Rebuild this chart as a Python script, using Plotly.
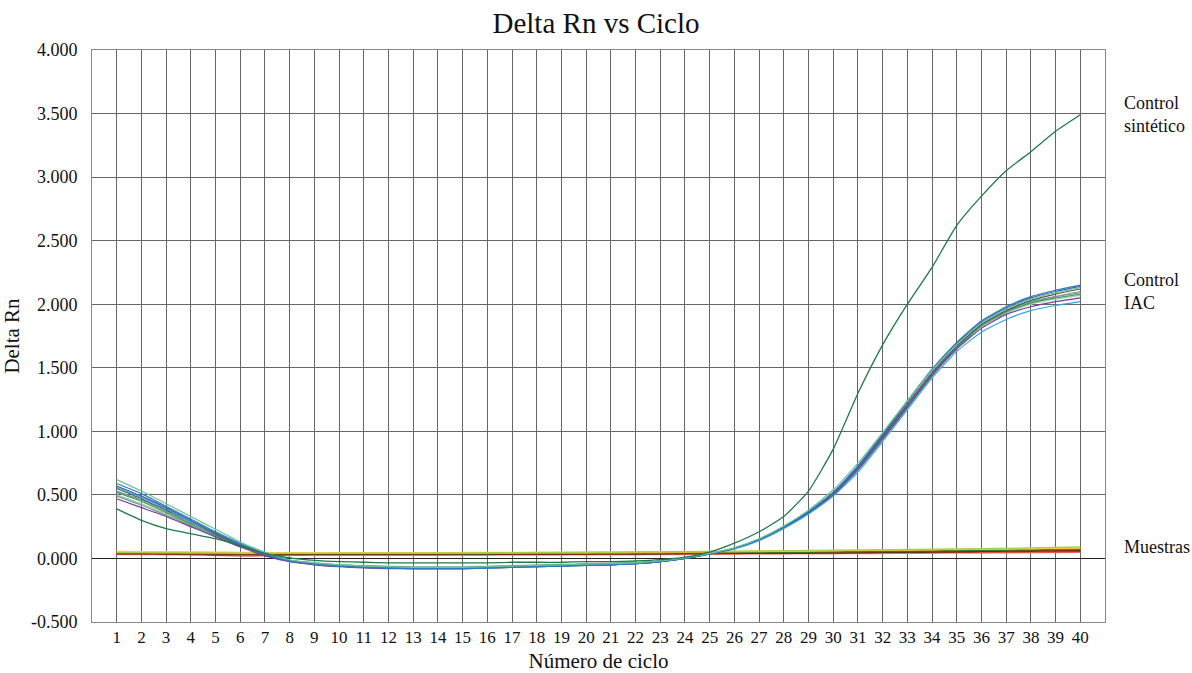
import plotly.graph_objects as go

cycles = list(range(1, 41))

# Synthetic positive control
control_sintetico = [0.39, 0.30, 0.235, 0.195, 0.155, 0.10, 0.04, 0.005, -0.015, -0.025,
                     -0.03, -0.035, -0.035, -0.035, -0.035, -0.035, -0.03, -0.03, -0.03, -0.025,
                     -0.025, -0.02, -0.01, 0.01, 0.05, 0.12, 0.21, 0.33, 0.53, 0.86,
                     1.30, 1.68, 2.00, 2.29, 2.62, 2.85, 3.05, 3.20, 3.36, 3.49]

# Internal amplification control wells
iac_1 = [0.62, 0.53, 0.43, 0.33, 0.23, 0.13, 0.05, -0.01, -0.035, -0.05,
         -0.06, -0.065, -0.07, -0.07, -0.07, -0.065, -0.06, -0.055, -0.05, -0.045,
         -0.04, -0.035, -0.02, 0.005, 0.04, 0.085, 0.155, 0.255, 0.38, 0.54,
         0.75, 0.99, 1.24, 1.48, 1.68, 1.85, 1.96, 2.04, 2.09, 2.13]
iac_2 = [0.59, 0.51, 0.41, 0.31, 0.21, 0.12, 0.04, -0.02, -0.045, -0.06,
         -0.07, -0.075, -0.08, -0.08, -0.08, -0.075, -0.07, -0.065, -0.06, -0.055,
         -0.05, -0.04, -0.025, 0.0, 0.035, 0.08, 0.15, 0.25, 0.37, 0.52,
         0.73, 0.98, 1.24, 1.49, 1.70, 1.87, 1.98, 2.06, 2.11, 2.15]
iac_3 = [0.57, 0.49, 0.40, 0.30, 0.20, 0.11, 0.035, -0.02, -0.045, -0.06,
         -0.07, -0.075, -0.08, -0.08, -0.08, -0.075, -0.07, -0.065, -0.06, -0.055,
         -0.05, -0.04, -0.025, 0.0, 0.035, 0.08, 0.15, 0.245, 0.365, 0.515,
         0.72, 0.97, 1.23, 1.48, 1.69, 1.86, 1.97, 2.05, 2.10, 2.14]
iac_4 = [0.55, 0.47, 0.38, 0.29, 0.19, 0.105, 0.03, -0.02, -0.045, -0.06,
         -0.07, -0.075, -0.075, -0.075, -0.075, -0.07, -0.065, -0.06, -0.055, -0.05,
         -0.045, -0.04, -0.025, 0.0, 0.035, 0.08, 0.15, 0.25, 0.37, 0.52,
         0.72, 0.96, 1.21, 1.46, 1.67, 1.84, 1.95, 2.03, 2.08, 2.12]
iac_5 = [0.53, 0.46, 0.37, 0.28, 0.19, 0.10, 0.03, -0.02, -0.04, -0.055,
         -0.065, -0.07, -0.075, -0.075, -0.075, -0.07, -0.065, -0.06, -0.055, -0.05,
         -0.045, -0.04, -0.025, 0.0, 0.035, 0.08, 0.145, 0.245, 0.36, 0.51,
         0.71, 0.95, 1.20, 1.45, 1.66, 1.83, 1.94, 2.01, 2.06, 2.10]
iac_6 = [0.52, 0.45, 0.36, 0.27, 0.18, 0.10, 0.03, -0.015, -0.035, -0.05,
         -0.06, -0.065, -0.07, -0.07, -0.07, -0.065, -0.06, -0.055, -0.05, -0.045,
         -0.04, -0.035, -0.02, 0.005, 0.04, 0.08, 0.145, 0.24, 0.355, 0.50,
         0.70, 0.94, 1.19, 1.44, 1.66, 1.83, 1.94, 2.01, 2.05, 2.08]
iac_7 = [0.50, 0.43, 0.35, 0.26, 0.18, 0.10, 0.03, -0.015, -0.035, -0.05,
         -0.055, -0.06, -0.065, -0.065, -0.065, -0.06, -0.055, -0.05, -0.045, -0.04,
         -0.035, -0.03, -0.02, 0.005, 0.04, 0.08, 0.145, 0.24, 0.355, 0.50,
         0.69, 0.93, 1.18, 1.43, 1.65, 1.82, 1.93, 2.00, 2.04, 2.07]
iac_8 = [0.47, 0.40, 0.33, 0.25, 0.17, 0.09, 0.02, -0.025, -0.05, -0.065,
         -0.075, -0.08, -0.08, -0.08, -0.08, -0.075, -0.07, -0.065, -0.06, -0.055,
         -0.05, -0.04, -0.025, 0.0, 0.035, 0.08, 0.145, 0.24, 0.355, 0.50,
         0.70, 0.94, 1.19, 1.44, 1.65, 1.81, 1.92, 1.98, 2.02, 2.05]
iac_9 = [0.49, 0.42, 0.34, 0.26, 0.18, 0.10, 0.03, -0.015, -0.04, -0.055,
         -0.06, -0.065, -0.07, -0.07, -0.07, -0.065, -0.06, -0.055, -0.05, -0.045,
         -0.04, -0.035, -0.02, 0.005, 0.04, 0.08, 0.15, 0.25, 0.365, 0.515,
         0.72, 0.96, 1.21, 1.46, 1.67, 1.84, 1.95, 2.02, 2.06, 2.09]
iac_10 = [0.56, 0.48, 0.39, 0.29, 0.20, 0.11, 0.035, -0.02, -0.045, -0.06,
          -0.07, -0.075, -0.08, -0.08, -0.08, -0.075, -0.07, -0.065, -0.06, -0.055,
          -0.05, -0.04, -0.025, 0.0, 0.035, 0.075, 0.14, 0.235, 0.35, 0.49,
          0.68, 0.92, 1.17, 1.42, 1.63, 1.78, 1.88, 1.95, 1.99, 2.02]

# Sample wells (no amplification)
muestra_1 = [0.050, 0.050, 0.049, 0.048, 0.046, 0.044, 0.042, 0.041, 0.040, 0.040,
             0.040, 0.040, 0.040, 0.040, 0.041, 0.041, 0.041, 0.042, 0.042, 0.043,
             0.044, 0.045, 0.046, 0.048, 0.050, 0.052, 0.054, 0.056, 0.058, 0.060,
             0.062, 0.064, 0.066, 0.068, 0.070, 0.072, 0.074, 0.076, 0.078, 0.080]
muestra_2 = [0.035, 0.034, 0.033, 0.031, 0.025, 0.020, 0.022, 0.028, 0.030, 0.030,
             0.030, 0.030, 0.030, 0.030, 0.031, 0.031, 0.032, 0.032, 0.033, 0.033,
             0.034, 0.035, 0.036, 0.037, 0.038, 0.039, 0.040, 0.041, 0.042, 0.043,
             0.044, 0.045, 0.046, 0.047, 0.048, 0.049, 0.050, 0.051, 0.052, 0.053]
muestra_3 = [0.055, 0.054, 0.053, 0.052, 0.050, 0.048, 0.046, 0.045, 0.045, 0.045,
             0.045, 0.045, 0.046, 0.046, 0.047, 0.047, 0.048, 0.048, 0.049, 0.050,
             0.051, 0.052, 0.053, 0.054, 0.055, 0.056, 0.057, 0.058, 0.060, 0.062,
             0.064, 0.066, 0.068, 0.070, 0.072, 0.074, 0.076, 0.078, 0.080, 0.082]
muestra_4 = [0.045, 0.045, 0.044, 0.043, 0.042, 0.041, 0.040, 0.040, 0.040, 0.041,
             0.041, 0.042, 0.042, 0.043, 0.044, 0.045, 0.046, 0.047, 0.048, 0.049,
             0.050, 0.051, 0.052, 0.053, 0.055, 0.057, 0.059, 0.061, 0.063, 0.065,
             0.067, 0.069, 0.071, 0.073, 0.075, 0.077, 0.080, 0.083, 0.086, 0.090]
muestra_5 = [0.040, 0.040, 0.039, 0.038, 0.037, 0.036, 0.035, 0.035, 0.035, 0.035,
             0.035, 0.035, 0.035, 0.035, 0.035, 0.036, 0.036, 0.036, 0.037, 0.037,
             0.038, 0.038, 0.039, 0.040, 0.041, 0.042, 0.043, 0.044, 0.045, 0.047,
             0.049, 0.051, 0.053, 0.055, 0.057, 0.059, 0.061, 0.062, 0.064, 0.066]
muestra_6 = [0.038, 0.038, 0.037, 0.036, 0.035, 0.034, 0.034, 0.033, 0.033, 0.033,
             0.033, 0.033, 0.033, 0.033, 0.033, 0.034, 0.034, 0.034, 0.035, 0.035,
             0.036, 0.036, 0.037, 0.038, 0.039, 0.040, 0.041, 0.042, 0.043, 0.044,
             0.045, 0.047, 0.049, 0.051, 0.053, 0.055, 0.057, 0.058, 0.060, 0.062]
muestra_7 = [0.030, 0.030, 0.029, 0.028, 0.027, 0.026, 0.025, 0.025, 0.025, 0.025,
             0.025, 0.025, 0.025, 0.025, 0.026, 0.026, 0.026, 0.027, 0.027, 0.028,
             0.028, 0.029, 0.030, 0.031, 0.032, 0.033, 0.034, 0.035, 0.036, 0.037,
             0.038, 0.039, 0.040, 0.041, 0.042, 0.043, 0.044, 0.045, 0.046, 0.047]
muestra_8 = [0.044, 0.044, 0.043, 0.042, 0.041, 0.040, 0.039, 0.038, 0.038, 0.038,
             0.038, 0.038, 0.038, 0.038, 0.039, 0.039, 0.040, 0.040, 0.041, 0.041,
             0.042, 0.043, 0.044, 0.045, 0.046, 0.047, 0.048, 0.049, 0.050, 0.052,
             0.054, 0.056, 0.058, 0.060, 0.062, 0.064, 0.066, 0.068, 0.070, 0.072]

y_ticks = [-0.5, 0.0, 0.5, 1.0, 1.5, 2.0, 2.5, 3.0, 3.5, 4.0]
y_tick_labels = ["-0.500", "0.000", "0.500", "1.000", "1.500",
                 "2.000", "2.500", "3.000", "3.500", "4.000"]

muestras = [
    (muestra_7, "#f08878"),
    (muestra_2, "#e0301e"),
    (muestra_6, "#1e3a1e"),
    (muestra_5, "#9a2a10"),
    (muestra_8, "#2e7d32"),
    (muestra_1, "#f39c2a"),
    (muestra_3, "#f2d04a"),
    (muestra_4, "#a5cf4a"),
]
iac = [
    (iac_7, "#a9cbb2"),
    (iac_9, "#6f9f8c"),
    (iac_5, "#8c8c8c"),
    (iac_6, "#3da463"),
    (iac_4, "#555555"),
    (iac_8, "#7a3a9e"),
    (iac_10, "#2ea9e6"),
    (iac_3, "#3b62a6"),
    (iac_2, "#2f7bc0"),
    (iac_1, "#6cc49a"),
]

fig = go.Figure()
for values, color in muestras:
    fig.add_trace(go.Scatter(x=cycles, y=values, mode="lines",
                             line=dict(color=color, width=1.3, shape="spline", smoothing=0.5),
                             hoverinfo="skip"))
for values, color in iac:
    fig.add_trace(go.Scatter(x=cycles, y=values, mode="lines",
                             line=dict(color=color, width=1.2, shape="spline", smoothing=0.5),
                             hoverinfo="skip"))
fig.add_trace(go.Scatter(x=cycles, y=control_sintetico, mode="lines",
                         line=dict(color="#1f7a4c", width=1.3, shape="spline", smoothing=0.5),
                         hoverinfo="skip"))

serif = "Liberation Serif"
label_font = dict(family=serif, size=18, color="#111111")

fig.add_annotation(x=1, xref="paper", y=control_sintetico[-1], yref="y",
                   text="Control<br>sintético", showarrow=False, xanchor="left",
                   xshift=17, align="left", font=label_font)
fig.add_annotation(x=1, xref="paper", y=2.10, yref="y",
                   text="Control<br>IAC", showarrow=False, xanchor="left",
                   xshift=17, align="left", font=label_font)
fig.add_annotation(x=1, xref="paper", y=0.087, yref="y",
                   text="Muestras", showarrow=False, xanchor="left",
                   xshift=17, align="left", font=label_font)

fig.update_layout(
    width=1192, height=673,
    margin=dict(l=92, r=87, t=50, b=51),
    paper_bgcolor="white", plot_bgcolor="white",
    showlegend=False,
    title=dict(text="Delta Rn vs Ciclo", x=0.5, xanchor="center",
               y=0.966, yanchor="middle",
               font=dict(family=serif, size=29, color="#111111")),
    font=dict(family=serif, size=17, color="#111111"),
)
fig.update_xaxes(
    range=[0, 41], tickmode="array", tickvals=cycles,
    ticktext=[str(c) for c in cycles],
    showgrid=True, gridcolor="#666666", gridwidth=1,
    showline=True, linecolor="#888888", linewidth=1, mirror=True,
    ticks="", zeroline=False, automargin=False,
    title=dict(text="Número de ciclo", standoff=15,
               font=dict(family=serif, size=21)),
    tickfont=dict(family=serif, size=17),
)
fig.update_yaxes(
    range=[-0.5, 4.0], tickmode="array", tickvals=y_ticks, ticktext=y_tick_labels,
    showgrid=True, gridcolor="#666666", gridwidth=1,
    showline=True, linecolor="#888888", linewidth=1, mirror=True,
    zeroline=True, zerolinecolor="#222222", zerolinewidth=1,
    ticks="", ticklabelstandoff=10, automargin=False,
    title=dict(text="Delta Rn", standoff=10, font=dict(family=serif, size=21)),
    tickfont=dict(family=serif, size=18),
)

fig.write_html("out.html")
